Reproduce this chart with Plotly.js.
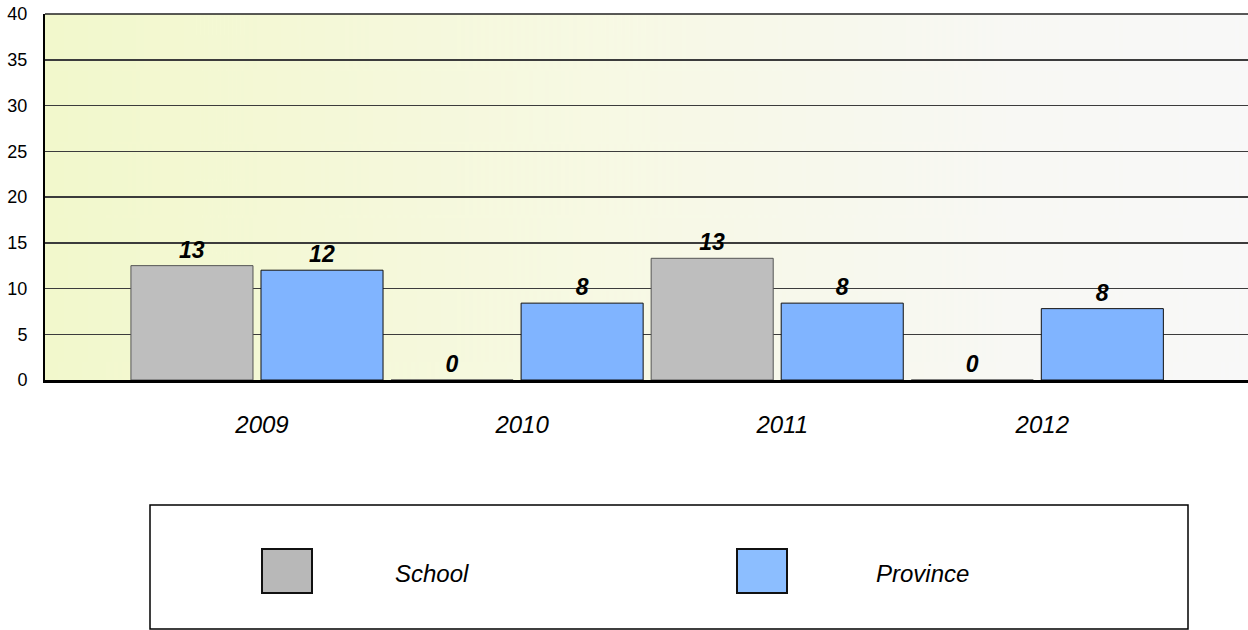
<!DOCTYPE html>
<html>
<head>
<meta charset="utf-8">
<script src="https://cdn.plot.ly/plotly-3.0.1.min.js"></script>
<style>
html,body{margin:0;padding:0;background:#ffffff;}
#chart{width:1248px;height:630px;}
</style>
</head>
<body>
<div id="chart"></div>
<script>
// ---- data ----
const categories = ["2009", "2010", "2011", "2012"];
const seriesNames = ["School", "Province"];
const schoolValues = [12.5, 0, 13.3, 0];
const provinceValues = [12.0, 8.4, 8.4, 7.8];
const yTickValues = [0, 5, 10, 15, 20, 25, 30, 35, 40];

// ---- styling ----
const W = 1248, H = 630;
const M = {l: 45, r: 0, t: 14, b: 250};
const plotW = W - M.l - M.r, plotH = H - M.t - M.b;
const px = x => (x - M.l) / plotW;          // pixel -> paper x
const py = y => (H - M.b - y) / plotH;      // pixel -> paper y

// gradient background as an image
const cv = document.createElement("canvas");
cv.width = 600; cv.height = 10;
const ctx = cv.getContext("2d");
const g = ctx.createLinearGradient(0, 0, 600, 0);
g.addColorStop(0, "#f2f8cc");
g.addColorStop(0.45, "#f7f9e3");
g.addColorStop(0.8, "#f8f8f4");
g.addColorStop(1, "#f8f8f8");
ctx.fillStyle = g;
ctx.fillRect(0, 0, 600, 10);
const bgSrc = cv.toDataURL("image/png");

const FAM = "Liberation Sans, Arial, sans-serif";
const labelFont = {family: FAM, size: 23, color: "#000", weight: "bold", style: "italic"};

const traces = [
  {
    type: "bar", name: seriesNames[0], x: categories, y: schoolValues,
    marker: {color: "#bebebe", line: {color: "#555555", width: 1}},
    texttemplate: "%{y:.0f}", textposition: "outside", textfont: labelFont,
    cliponaxis: false, hoverinfo: "x+y"
  },
  {
    type: "bar", name: seriesNames[1], x: categories, y: provinceValues,
    marker: {color: "#80b4ff", line: {color: "#111111", width: 1}},
    texttemplate: "%{y:.0f}", textposition: "outside", textfont: labelFont,
    cliponaxis: false, hoverinfo: "x+y"
  }
];

const swatchColors = ["#b8b8b8", "#8cbeff"];
const shapes = [
  // top gridline at 40
  {type: "line", xref: "paper", yref: "paper", x0: 0, x1: 1, y0: 1, y1: 1,
   line: {color: "#222", width: 1.5}, layer: "above"},
  // legend box
  {type: "rect", xref: "paper", yref: "paper", x0: px(150), x1: px(1188), y0: py(629), y1: py(505),
   line: {color: "#000", width: 1.5}, fillcolor: "#ffffff", layer: "above"},
  // swatches
  {type: "rect", xref: "paper", yref: "paper", x0: px(262), x1: px(312), y0: py(593), y1: py(549),
   line: {color: "#111", width: 2}, fillcolor: swatchColors[0], layer: "above"},
  {type: "rect", xref: "paper", yref: "paper", x0: px(737), x1: px(787), y0: py(593), y1: py(549),
   line: {color: "#111", width: 2}, fillcolor: swatchColors[1], layer: "above"}
];

const legendFont = {family: FAM, size: 24, color: "#000", style: "italic"};
const annotations = [
  {xref: "paper", yref: "paper", x: px(432), y: py(573), text: seriesNames[0], showarrow: false,
   font: legendFont, xanchor: "center", yanchor: "middle"},
  {xref: "paper", yref: "paper", x: px(922), y: py(573), text: seriesNames[1], showarrow: false,
   font: legendFont, xanchor: "center", yanchor: "middle"}
];

const layout = {
  width: W, height: H,
  margin: M,
  paper_bgcolor: "#ffffff",
  plot_bgcolor: "rgba(0,0,0,0)",
  showlegend: false,
  barmode: "group",
  bargap: 0,
  bargroupgap: 0.0615,
  images: [{source: bgSrc, xref: "paper", yref: "paper", x: 0, y: 1, sizex: 1, sizey: 1,
            xanchor: "left", yanchor: "top", sizing: "stretch", layer: "below"}],
  xaxis: {
    type: "category", range: [-0.815, 3.81],
    showline: true, linecolor: "#000", linewidth: 2.5,
    showgrid: false, zeroline: false, ticks: "",
    tickfont: {family: FAM, size: 24, color: "#000", style: "italic"},
    ticklabelstandoff: 22, ticklabelshift: 5,
    fixedrange: true
  },
  yaxis: {
    range: [0, 40], tickvals: yTickValues,
    showline: true, linecolor: "#000", linewidth: 2,
    showgrid: true, gridcolor: "#3c3c3c", gridwidth: 1.5,
    zeroline: false, ticks: "",
    tickfont: {family: FAM, size: 18, color: "#000"},
    ticklabelstandoff: 12,
    fixedrange: true
  },
  shapes: shapes,
  annotations: annotations
};

Plotly.newPlot("chart", traces, layout, {displayModeBar: false, staticPlot: true});
</script>
</body>
</html>
